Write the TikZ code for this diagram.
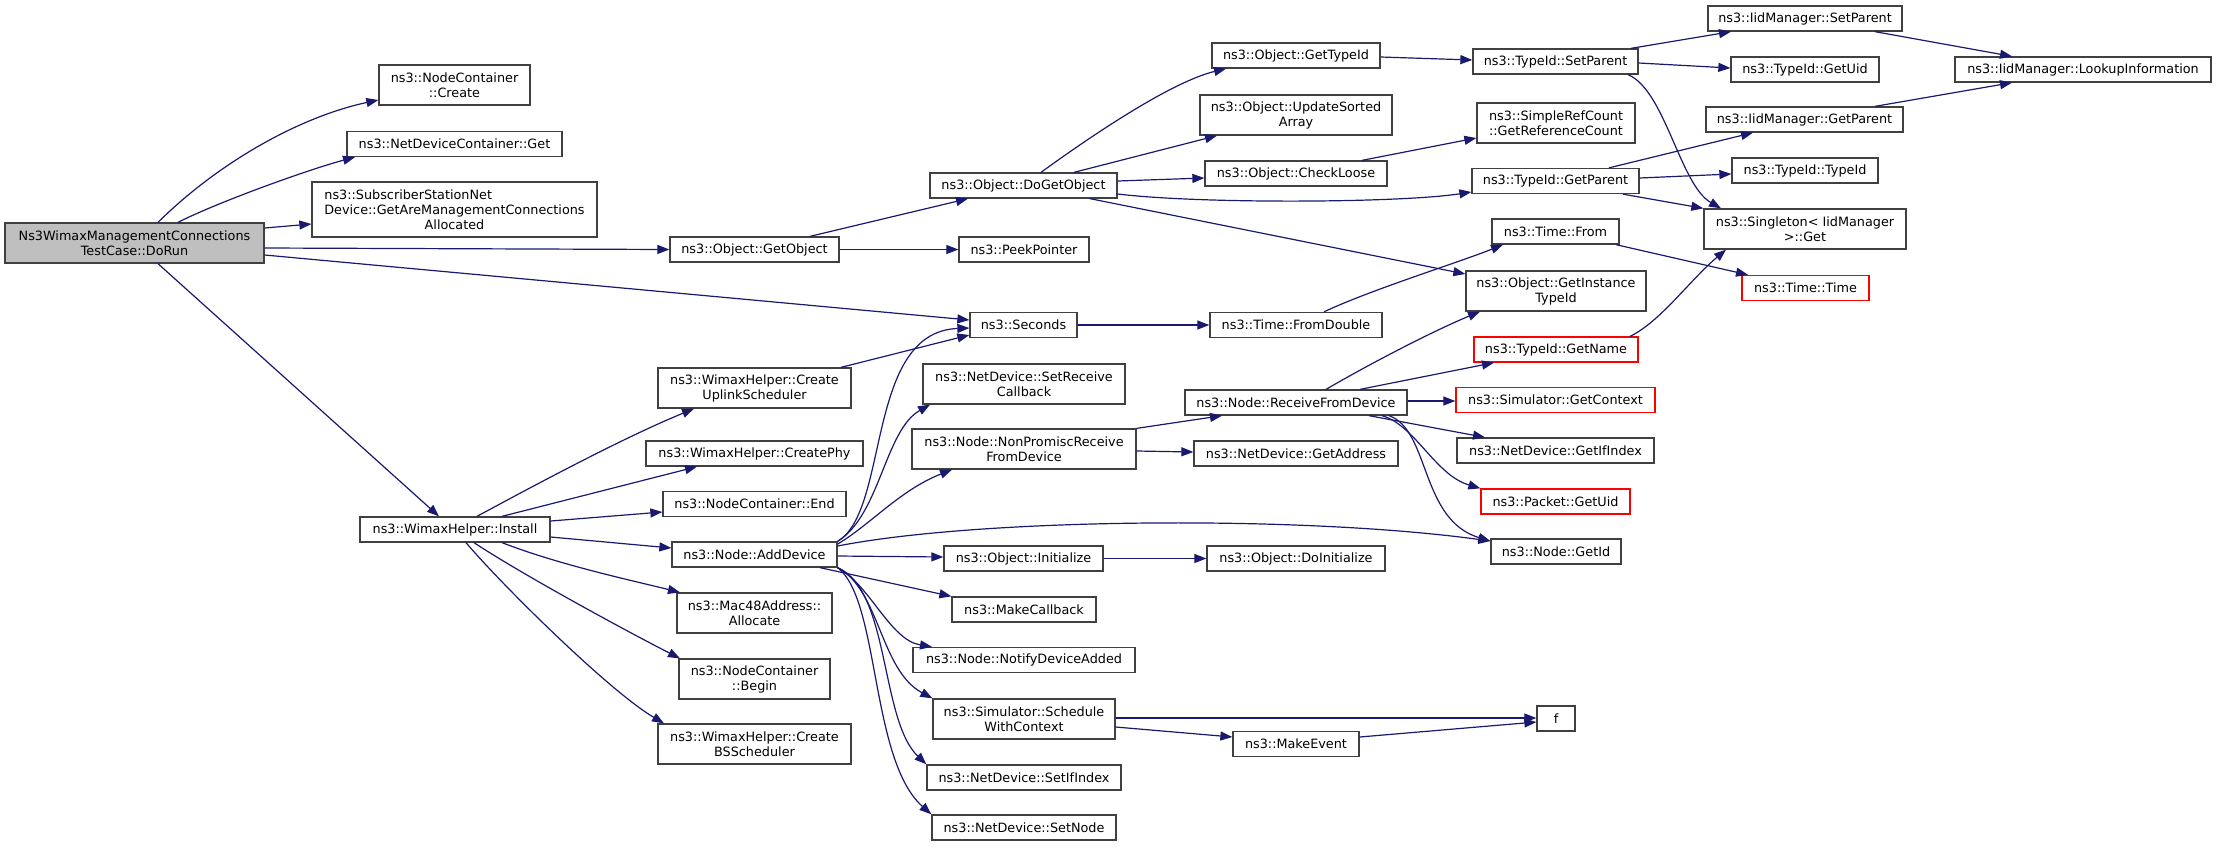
\documentclass[tikz,border=0pt]{standalone}
\usepackage{fontspec}
\setmainfont{DejaVu Sans}
\usetikzlibrary{arrows.meta}
\definecolor{navy}{HTML}{191970}
\definecolor{boxline}{HTML}{404040}
\begin{document}
\begin{tikzpicture}[x=1pt,y=-1pt,
  fn/.style={draw=boxline,line width=1.3pt,fill=white,inner xsep=2pt,inner ysep=0pt,
    minimum height=25pt,align=center,font=\fontsize{12.8}{15}\selectfont},
  fnred/.style={fn,draw=red},
  arr/.style={draw=navy,line width=1.2pt,-{Triangle[length=12pt,width=9pt]}}]
\path[fill=white] (0,0) rectangle (2216,847);
\useasboundingbox (0,0) rectangle (2216,847);

\node[fn,minimum width=259pt,minimum height=40pt,fill={rgb,255:red,191;green,191;blue,191}] (dorun) at (134.5,243) {Ns3WimaxManagementConnections\\TestCase::DoRun};

\node[fn,minimum width=151pt,minimum height=40pt] (ncCreate) at (454.5,85) {ns3::NodeContainer\\::Create};
\node[fn,minimum width=215pt] (ndcGet) at (454.5,144) {ns3::NetDeviceContainer::Get};
\node[fn,minimum width=285pt,minimum height=55pt] (ssGet) at (454.5,209.5) {\rlap{ns3::SubscriberStationNet}\phantom{Device::GetAreManagementConnections}\\Device::GetAreManagementConnections\\Allocated};
\node[fn,minimum width=190pt] (install) at (455,529.5) {ns3::WimaxHelper::Install};

\node[fn,minimum width=169pt] (getObject) at (754.5,249.5) {ns3::Object::GetObject};
\node[fn,minimum width=193pt,minimum height=40pt] (uplink) at (754.5,388) {ns3::WimaxHelper::Create\\UplinkScheduler};
\node[fn,minimum width=217pt] (createPhy) at (754.5,453.5) {ns3::WimaxHelper::CreatePhy};
\node[fn,minimum width=183pt] (ncEnd) at (754.5,504) {ns3::NodeContainer::End};
\node[fn,minimum width=165pt] (addDevice) at (754.5,554.5) {ns3::Node::AddDevice};
\node[fn,minimum width=155pt,minimum height=40pt] (mac48) at (754.5,613) {ns3::Mac48Address::\\Allocate};
\node[fn,minimum width=151pt,minimum height=40pt] (ncBegin) at (754.5,679) {ns3::NodeContainer\\::Begin};
\node[fn,minimum width=193pt,minimum height=40pt] (bsSched) at (754.5,744) {ns3::WimaxHelper::Create\\BSScheduler};

\node[fn,minimum width=187pt] (doGetObject) at (1023.5,185.5) {ns3::Object::DoGetObject};
\node[fn,minimum width=130pt] (peek) at (1024,249.5) {ns3::PeekPointer};
\node[fn,minimum width=107pt] (seconds) at (1023.5,325) {ns3::Seconds};
\node[fn,minimum width=202pt,minimum height=40pt] (setRecv) at (1024,384) {ns3::NetDevice::SetReceive\\Callback};
\node[fn,minimum width=224pt,minimum height=40pt] (nonPromisc) at (1024,449) {ns3::Node::NonPromiscReceive\\FromDevice};
\node[fn,minimum width=159pt] (initialize) at (1023.5,558.5) {ns3::Object::Initialize};
\node[fn,minimum width=144pt] (makeCallback) at (1024,609.5) {ns3::MakeCallback};
\node[fn,minimum width=222pt] (notify) at (1024,660) {ns3::Node::NotifyDeviceAdded};
\node[fn,minimum width=182pt,minimum height=40pt] (schedule) at (1024,719) {ns3::Simulator::Schedule\\WithContext};
\node[fn,minimum width=194pt] (setIfIndex) at (1024,777.5) {ns3::NetDevice::SetIfIndex};
\node[fn,minimum width=184pt] (setNode) at (1024,827.5) {ns3::NetDevice::SetNode};

\node[fn,minimum width=168pt] (getTypeId) at (1296,55.5) {ns3::Object::GetTypeId};
\node[fn,minimum width=192pt,minimum height=40pt] (updateSorted) at (1296,115) {ns3::Object::UpdateSorted\\Array};
\node[fn,minimum width=182pt] (checkLoose) at (1296,173.5) {ns3::Object::CheckLoose};
\node[fn,minimum width=172pt] (fromDouble) at (1296,325) {ns3::Time::FromDouble};
\node[fn,minimum width=222pt] (recvFrom) at (1296,402.5) {ns3::Node::ReceiveFromDevice};
\node[fn,minimum width=204pt] (getAddress) at (1296,453.5) {ns3::NetDevice::GetAddress};
\node[fn,minimum width=178pt] (doInit) at (1296,558.5) {ns3::Object::DoInitialize};
\node[fn,minimum width=126pt] (makeEvent) at (1296,744) {ns3::MakeEvent};

\node[fn,minimum width=165pt] (tidSetParent) at (1555.5,61.5) {ns3::TypeId::SetParent};
\node[fn,minimum width=158pt,minimum height=40pt] (simpleRef) at (1556,123) {ns3::SimpleRefCount\\::GetReferenceCount};
\node[fn,minimum width=167pt] (tidGetParent) at (1555.5,181) {ns3::TypeId::GetParent};
\node[fn,minimum width=127pt] (timeFrom) at (1555.5,231.5) {ns3::Time::From};
\node[fn,minimum width=180pt,minimum height=40pt] (instTypeId) at (1556,291) {ns3::Object::GetInstance\\TypeId};
\node[fnred,minimum width=164pt] (getName) at (1556,349.5) {ns3::TypeId::GetName};
\node[fnred,minimum width=199pt] (getContext) at (1555.5,400) {ns3::Simulator::GetContext};
\node[fn,minimum width=197pt] (getIfIndex) at (1555.5,450.5) {ns3::NetDevice::GetIfIndex};
\node[fnred,minimum width=149pt] (pktUid) at (1555.5,501.5) {ns3::Packet::GetUid};
\node[fn,minimum width=130pt] (getId) at (1556,551.5) {ns3::Node::GetId};
\node[fn,minimum width=38pt] (f) at (1556,718.5) {f};

\node[fn,minimum width=194pt] (iidSetParent) at (1805,18.5) {ns3::IidManager::SetParent};
\node[fn,minimum width=148pt] (getUid) at (1805,69.5) {ns3::TypeId::GetUid};
\node[fn,minimum width=197pt] (iidGetParent) at (1804.5,119.5) {ns3::IidManager::GetParent};
\node[fn,minimum width=146pt] (tidTypeId) at (1805,170.5) {ns3::TypeId::TypeId};
\node[fn,minimum width=202pt,minimum height=40pt] (singleton) at (1805,229) {ns3::Singleton< IidManager\\>::Get};
\node[fnred,minimum width=127pt] (timeTime) at (1805.5,288) {ns3::Time::Time};

\node[fn,minimum width=256pt] (lookup) at (2083,69.5) {ns3::IidManager::LookupInformation};

\draw[arr] (dorun.north -| 158,0) .. controls (218,163) and (299,117) .. (ncCreate.west |- 0,100);
\draw[arr] (dorun.north -| 178,0) .. controls (218,202) and (310,169) .. (ndcGet.south -| 355,0);
\draw[arr] (dorun.east |- 0,228) -- (ssGet.west |- 0,224);
\draw[arr] (dorun.east |- 0,248) -- (getObject.west);
\draw[arr] (dorun.east |- 0,255) -- (seconds.west |- 0,320);
\draw[arr] (dorun.south -| 158,0) -- (install.north -| 439,0);

\draw[arr] (install.north -| 477,0) .. controls (570,466) and (635,433) .. (uplink.south -| 694,0);
\draw[arr] (install.north -| 502,0) -- (createPhy.south -| 697,0);
\draw[arr] (install.east |- 0,521) -- (ncEnd.west |- 0,512);
\draw[arr] (install.east |- 0,537) -- (addDevice.west |- 0,548);
\draw[arr] (install.south -| 502,0) .. controls (560,565) and (630,580) .. (mac48.north -| 680,0);
\draw[arr] (install.south -| 474,0) .. controls (523,575) and (630,633) .. (ncBegin.north -| 680,0);
\draw[arr] (install.south -| 466,0) .. controls (501,584) and (609,691) .. (bsSched.north -| 664,0);

\draw[arr] (uplink.north -| 841,0) -- (seconds.west |- 0,335);

\draw[arr] (addDevice.north east) .. controls (890,510) and (865,332) .. (seconds.west |- 0,328);
\draw[arr] (addDevice.north east) .. controls (880,515) and (885,430) .. (setRecv.south -| 930,0);
\draw[arr] (addDevice.east |- 0,544) .. controls (870,525) and (900,490) .. (nonPromisc.south -| 952,0);
\draw[arr] (addDevice.east |- 0,546) .. controls (980,518) and (1300,515) .. (getId.west |- 0,541);
\draw[arr] (addDevice.east |- 0,556) -- (initialize.west |- 0,557);
\draw[arr] (addDevice.south -| 820,0) -- (makeCallback.north west);
\draw[arr] (addDevice.south east) .. controls (870,585) and (890,640) .. (notify.north -| 932,0);
\draw[arr] (addDevice.south east) .. controls (880,590) and (880,670) .. (schedule.north west);
\draw[arr] (addDevice.south east) .. controls (890,590) and (880,720) .. (setIfIndex.north west);
\draw[arr] (addDevice.south east) .. controls (880,600) and (870,760) .. (setNode.north west);

\draw[arr] (getObject.north -| 810,0) -- (doGetObject.south -| 968,0);
\draw[arr] (getObject.east) -- (peek.west);

\draw[arr] (doGetObject.north -| 1041,0) .. controls (1091,136) and (1171,82) .. (getTypeId.south -| 1226,0);
\draw[arr] (doGetObject.north -| 1074,0) -- (updateSorted.south -| 1217,0);
\draw[arr] (doGetObject.east |- 0,181) -- (checkLoose.west |- 0,178);
\draw[arr] (doGetObject.east |- 0,194) .. controls (1200,204) and (1400,203) .. (tidGetParent.west |- 0,192);
\draw[arr] (doGetObject.south -| 1090,0) -- (instTypeId.west |- 0,274);

\draw[arr] (getTypeId.east |- 0,57) -- (tidSetParent.west |- 0,60);
\draw[arr] (tidSetParent.north -| 1631,0) -- (iidSetParent.south -| 1731,0);
\draw[arr] (tidSetParent.east |- 0,63) -- (getUid.west |- 0,68);
\draw[arr] (tidSetParent.south -| 1628,0) .. controls (1665,90) and (1680,185) .. (singleton.north -| 1721,0);
\draw[arr] (iidSetParent.south -| 1875,0) -- (lookup.north -| 2012,0);
\draw[arr] (iidGetParent.north -| 1875,0) -- (lookup.south -| 2012,0);
\draw[arr] (checkLoose.north -| 1362,0) -- (simpleRef.west |- 0,138);
\draw[arr] (tidGetParent.north -| 1609,0) -- (iidGetParent.south -| 1753,0);
\draw[arr] (tidGetParent.east |- 0,178) -- (tidTypeId.west |- 0,174);
\draw[arr] (tidGetParent.south -| 1623,0) -- (singleton.north west);

\draw[arr] (seconds.east) -- (fromDouble.west);
\draw[arr] (fromDouble.north -| 1324,0) .. controls (1370,290) and (1460,262) .. (timeFrom.south -| 1503,0);
\draw[arr] (timeFrom.south -| 1616,0) -- (timeTime.north -| 1748,0);

\draw[arr] (recvFrom.north -| 1326,0) .. controls (1380,358) and (1440,328) .. (instTypeId.south -| 1480,0);
\draw[arr] (recvFrom.north -| 1360,0) -- (getName.south -| 1494,0);
\draw[arr] (recvFrom.east |- 0,401) -- (getContext.west |- 0,401);
\draw[arr] (recvFrom.south -| 1369,0) -- (getIfIndex.north -| 1485,0);
\draw[arr] (recvFrom.south -| 1382,0) .. controls (1415,425) and (1435,475) .. (pktUid.north west);
\draw[arr] (recvFrom.south -| 1389,0) .. controls (1430,430) and (1420,520) .. (getId.west |- 0,541);
\draw[arr] (getName.north -| 1630,0) .. controls (1660,322) and (1690,280) .. (singleton.south -| 1726,0);

\draw[arr] (nonPromisc.north east) -- (recvFrom.south -| 1222,0);
\draw[arr] (nonPromisc.east |- 0,451) -- (getAddress.west |- 0,452);
\draw[arr] (initialize.east) -- (doInit.west);
\draw[arr] (schedule.east |- 0,718) -- (f.west |- 0,718);
\draw[arr] (schedule.east |- 0,727) -- (makeEvent.west |- 0,737);
\draw[arr] (makeEvent.east |- 0,737) -- (f.west |- 0,722);
\end{tikzpicture}
\end{document}
